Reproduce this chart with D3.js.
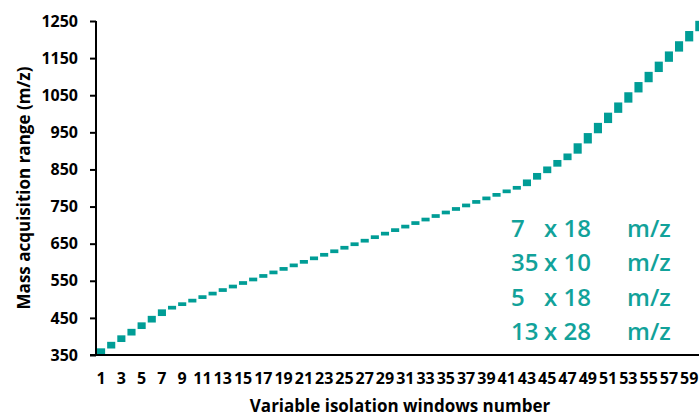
<!DOCTYPE html>
<html>
<head>
<meta charset="utf-8">
<script src="https://cdn.jsdelivr.net/npm/d3@7"></script>
<style>
  html, body { margin: 0; padding: 0; background: #fff; }
  svg { display: block; }
  text { font-family: "Open Sans", "Noto Sans", sans-serif; }
</style>
</head>
<body>
<svg id="chart" width="699" height="416"></svg>
<script>
// ---- data ----
const windowNumbers = d3.range(1, 61);
const windowStart = [
  350, 367.5, 385, 402.5, 420, 437.5, 455,
  472.5, 482, 491.5, 501, 510.5, 520, 529.5, 539, 548.5, 558,
  567.5, 577, 586.5, 596, 605.5, 615, 624.5, 634, 643.5, 653,
  662.5, 672, 681.5, 691, 700.5, 710, 719.5, 729, 738.5, 748,
  757.5, 767, 776.5, 786, 795.5,
  805, 822.5, 840, 857.5, 875,
  892.5, 920, 947.5, 975, 1002.5, 1030, 1057.5, 1085, 1112.5, 1140, 1167.5, 1195, 1222.5
];
const windowWidth = [
  18, 18, 18, 18, 18, 18, 18,
  10, 10, 10, 10, 10, 10, 10, 10, 10, 10,
  10, 10, 10, 10, 10, 10, 10, 10, 10, 10,
  10, 10, 10, 10, 10, 10, 10, 10, 10, 10,
  10, 10, 10, 10, 10,
  18, 18, 18, 18, 18,
  28, 28, 28, 28, 28, 28, 28, 28, 28, 28, 28, 28, 28
];
const yTicks = [350, 450, 550, 650, 750, 850, 950, 1050, 1150, 1250];
const xTickLabels = windowNumbers.filter(n => n % 2 === 1);
const schemeCounts = ["7", "35", "5", "13"];
const schemeWidths = ["x 18", "x 10", "x 18", "x 28"];
const schemeUnit = "m/z";

// ---- layout ----
const svg = d3.select("#chart");
const teal = "#009D96";
const x = d3.scaleBand().domain(windowNumbers).range([96, 704.4]).paddingInner(0.2).paddingOuter(0.1);
const y = d3.scaleLinear().domain([350, 1250]).range([355, 21]);

const data = windowNumbers.map((n, i) => ({ n, lo: windowStart[i], hi: windowStart[i] + windowWidth[i] }));

// bars
svg.append("g").selectAll("rect").data(data).join("rect")
  .attr("x", d => x(d.n))
  .attr("width", x.bandwidth())
  .attr("y", d => y(d.hi))
  .attr("height", d => y(d.lo) - y(d.hi))
  .attr("fill", teal);

// y axis
const yAxis = svg.append("g").attr("transform", "translate(96,0)")
  .call(d3.axisLeft(y).tickValues(yTicks).tickSize(6).tickPadding(12).tickFormat(d3.format("d")));
yAxis.select(".domain").attr("stroke", "#000").attr("stroke-width", 2).attr("d", "M0,21V356");
yAxis.selectAll(".tick line").attr("stroke", "#000").attr("stroke-width", 2);
yAxis.selectAll(".tick text").attr("font-size", 16).attr("font-weight", "bold").attr("fill", "#000")
  .style("font-family", "'Open Sans', sans-serif");

// x axis
const xAxis = svg.append("g").attr("transform", "translate(0,355)")
  .call(d3.axisBottom(x).tickValues(xTickLabels).tickSize(0).tickPadding(18));
xAxis.select(".domain").attr("stroke", "#000").attr("stroke-width", 2).attr("d", "M90,0H699");
xAxis.selectAll(".tick text").attr("font-size", 16).attr("font-weight", "bold").attr("fill", "#000")
  .style("font-family", "'Open Sans', sans-serif");

// axis titles
svg.append("text")
  .attr("transform", "translate(30,188) rotate(-90)")
  .attr("text-anchor", "middle")
  .attr("font-size", 17).attr("font-weight", "bold").attr("fill", "#000")
  .text("Mass acquisition range (m/z)");
svg.append("text")
  .attr("x", 400).attr("y", 412)
  .attr("text-anchor", "middle")
  .attr("font-size", 17).attr("font-weight", "bold").attr("fill", "#000")
  .text("Variable isolation windows number");

// annotation
const baselines = [237, 271, 306, 340];
const ann = svg.append("g").attr("fill", "#12A29A").attr("font-size", 24).attr("font-weight", 600);
schemeCounts.forEach((c, i) => {
  ann.append("text").attr("x", 511).attr("y", baselines[i]).text(c);
  ann.append("text").attr("x", 544).attr("y", baselines[i]).text(schemeWidths[i]);
  ann.append("text").attr("x", 627).attr("y", baselines[i]).text(schemeUnit);
});
</script>
</body>
</html>
